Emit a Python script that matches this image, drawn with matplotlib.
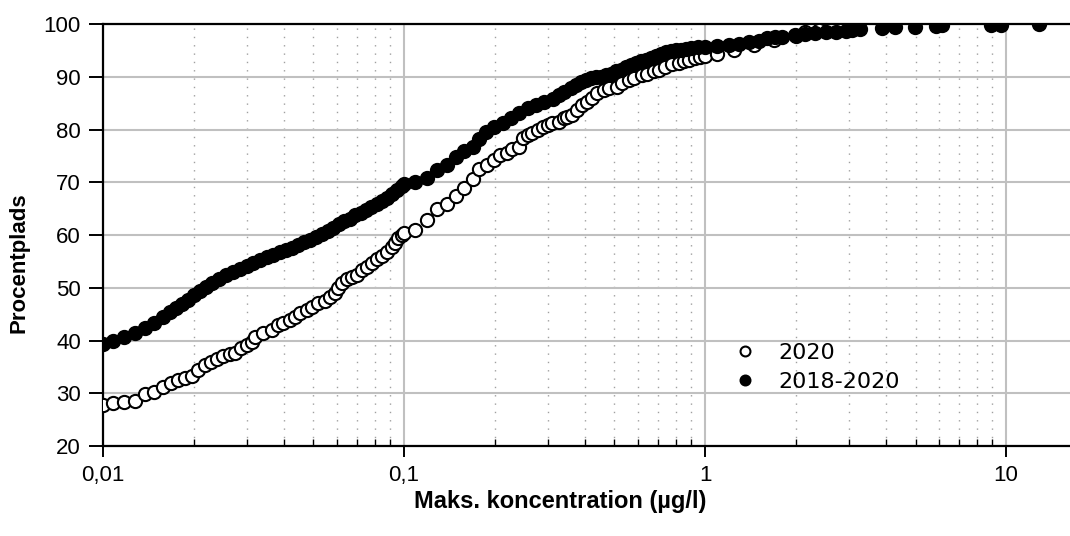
import matplotlib
matplotlib.use("Agg")
import matplotlib.pyplot as plt
from matplotlib.ticker import FixedLocator, FixedFormatter, LogLocator, NullFormatter

# =========================
# DATA
# =========================
conc_2020 = [
    0.0100, 0.0108, 0.0117, 0.0128, 0.0138, 0.0148, 0.0158, 0.0168, 0.0177, 0.0187,
    0.0198, 0.0207, 0.0218, 0.0229, 0.0239, 0.0251, 0.0264, 0.0275, 0.0287, 0.0301,
    0.0313, 0.0320, 0.0340, 0.0363, 0.0381, 0.0396, 0.0418, 0.0434, 0.0451, 0.0475,
    0.0493, 0.0518, 0.0547, 0.0568, 0.0590, 0.0604, 0.0621, 0.0645, 0.0670, 0.0696,
    0.0723, 0.0751, 0.0781, 0.0811, 0.0843, 0.0876, 0.0910, 0.0934, 0.0955, 0.0985,
    0.1000, 0.109, 0.119, 0.129, 0.139, 0.149, 0.158, 0.169, 0.177, 0.188,
    0.199, 0.208, 0.219, 0.229, 0.240, 0.249, 0.258, 0.266, 0.278, 0.289,
    0.300, 0.311, 0.327, 0.339, 0.348, 0.361, 0.376, 0.390, 0.406, 0.421,
    0.438, 0.461, 0.479, 0.510, 0.530, 0.558, 0.580, 0.618, 0.642, 0.675,
    0.702, 0.738, 0.777, 0.818, 0.850, 0.883, 0.929, 0.965, 1.000, 1.096,
    1.25, 1.45, 1.70, 2.00, 2.15, 2.39,
]
pct_2020 = [
    27.8, 28.1, 28.3, 28.5, 29.8, 30.2, 31.1, 31.9, 32.5, 32.9,
    33.3, 34.5, 35.4, 35.9, 36.4, 37.0, 37.4, 37.7, 38.6, 39.2,
    39.8, 40.7, 41.4, 42.0, 42.9, 43.3, 43.9, 44.5, 45.2, 45.8,
    46.4, 47.1, 47.5, 48.3, 49.0, 50.0, 50.9, 51.7, 52.1, 52.4,
    53.4, 54.0, 54.7, 55.4, 56.0, 56.8, 57.8, 58.5, 59.4, 60.0,
    60.4, 60.9, 62.8, 65.0, 65.9, 67.4, 69.0, 70.6, 72.6, 73.3,
    74.3, 75.2, 75.5, 76.4, 76.7, 78.3, 78.9, 79.4, 79.9, 80.5,
    80.9, 81.2, 81.5, 82.1, 82.3, 82.7, 83.7, 84.6, 85.3, 85.9,
    86.9, 87.5, 87.8, 88.1, 88.8, 89.4, 89.7, 90.3, 90.6, 91.0,
    91.3, 91.9, 92.5, 92.6, 92.9, 93.2, 93.5, 93.8, 94.0, 94.3,
    95.1, 96.0, 97.0, 97.8, 98.5, 98.9,
]

conc_1820 = [
    0.0100, 0.0108, 0.0117, 0.0128, 0.0138, 0.0148, 0.0158, 0.0167, 0.0175, 0.0183,
    0.0191, 0.0200, 0.0210, 0.0220, 0.0231, 0.0243, 0.0256, 0.0270, 0.0285, 0.0300,
    0.0316, 0.0333, 0.0350, 0.0368, 0.0386, 0.0405, 0.0425, 0.0445, 0.0465, 0.0487,
    0.0510, 0.0533, 0.0557, 0.0582, 0.0607, 0.0633, 0.0660, 0.0688, 0.0717, 0.0747,
    0.0778, 0.0810, 0.0843, 0.0877, 0.0912, 0.0948, 0.0985, 0.1000, 0.109, 0.119,
    0.129, 0.139, 0.149, 0.158, 0.169, 0.177, 0.187, 0.199, 0.213, 0.227,
    0.241, 0.258, 0.275, 0.292, 0.312, 0.327, 0.340, 0.359, 0.373, 0.388,
    0.403, 0.418, 0.434, 0.451, 0.469, 0.487, 0.506, 0.526, 0.547, 0.568,
    0.590, 0.613, 0.637, 0.662, 0.688, 0.714, 0.742, 0.771, 0.801, 0.832,
    0.864, 0.898, 0.950, 1.000, 1.096, 1.199, 1.294, 1.397, 1.508, 1.607,
    1.713, 1.802, 1.995, 2.152, 2.325, 2.512, 2.713, 2.928, 3.08, 3.28,
    3.87, 4.28, 4.99, 5.83, 6.10, 8.88, 9.64, 12.9,
]
pct_1820 = [
    39.3, 39.9, 40.7, 41.4, 42.3, 43.3, 44.4, 45.4, 46.2, 47.0,
    47.7, 48.6, 49.4, 50.2, 50.9, 51.7, 52.4, 53.0, 53.6, 54.1,
    54.7, 55.3, 55.9, 56.3, 56.7, 57.1, 57.6, 58.1, 58.6, 59.1,
    59.6, 60.2, 60.8, 61.4, 62.0, 62.6, 63.1, 63.7, 64.2, 64.7,
    65.3, 65.9, 66.5, 67.1, 67.8, 68.6, 69.3, 69.7, 70.1, 70.9,
    72.3, 73.3, 74.8, 76.0, 76.7, 78.2, 79.6, 80.5, 81.2, 82.1,
    83.1, 84.0, 84.6, 85.3, 85.7, 86.5, 87.2, 87.8, 88.5, 89.1,
    89.4, 89.7, 89.9, 90.0, 90.3, 90.6, 91.0, 91.3, 91.8, 92.2,
    92.6, 92.9, 93.2, 93.5, 93.9, 94.3, 94.6, 94.8, 95.0, 95.1,
    95.3, 95.4, 95.6, 95.7, 95.9, 96.1, 96.3, 96.6, 96.8, 97.3,
    97.5, 97.6, 97.9, 98.2, 98.3, 98.4, 98.5, 98.7, 98.9, 99.1,
    99.2, 99.4, 99.5, 99.6, 99.8, 99.8, 99.9, 100.0,
]

x_ticks = [0.01, 0.1, 1, 10]
x_tick_labels = ["0,01", "0,1", "1", "10"]
y_ticks = [20, 30, 40, 50, 60, 70, 80, 90, 100]

# =========================
# PLOT
# =========================
plt.rcParams['font.family'] = ['Liberation Sans', 'DejaVu Sans']

fig = plt.figure(figsize=(10.7, 5.36), dpi=100)
ax = fig.add_axes([0.0963, 0.1679, 0.9037, 0.7873])

ax.plot(conc_2020, pct_2020, linestyle='none', marker='o', ms=9.5,
        mfc='white', mec='black', mew=1.5, label='2020', zorder=3)
ax.plot(conc_1820, pct_1820, linestyle='none', marker='o', ms=9.5,
        mfc='black', mec='black', mew=1.5, label='2018-2020', zorder=4)

ax.set_xscale('log')
ax.set_xlim(0.01, 16.3)
ax.set_ylim(20, 100)

ax.xaxis.set_major_locator(FixedLocator(x_ticks))
ax.xaxis.set_major_formatter(FixedFormatter(x_tick_labels))
ax.xaxis.set_minor_locator(LogLocator(base=10, subs=range(2, 10), numticks=20))
ax.xaxis.set_minor_formatter(NullFormatter())
ax.set_yticks(y_ticks)

ax.grid(which='major', color='#c0c0c0', linewidth=1.5, linestyle='-')
ax.grid(which='minor', axis='x', color='#a0a0a0', linewidth=1.0, linestyle=(0, (1, 5)))
ax.set_axisbelow(True)

for s in ['left', 'bottom', 'top']:
    ax.spines[s].set_color('black')
    ax.spines[s].set_linewidth(1.6)
ax.spines['right'].set_visible(False)

ax.tick_params(axis='y', which='major', direction='out', length=10, width=1.4, labelsize=16, pad=6)
ax.tick_params(axis='x', which='major', direction='out', length=8, width=1.4, labelsize=16, pad=6)
ax.tick_params(axis='x', which='minor', direction='in', length=5, width=1.0)

ax.set_xlabel('Maks. koncentration (µg/l)', fontsize=17, fontweight='bold')
ax.xaxis.set_label_coords(0.4726, -0.105)
ax.set_ylabel('Procentplads', fontsize=16, fontweight='bold')
ax.yaxis.set_label_coords(-0.0765, 0.434)

leg = ax.legend(loc='upper left', bbox_to_anchor=(0.64, 0.265), frameon=False,
                markerscale=0.75, handlelength=1.3, handletextpad=0.85,
                labelspacing=0.4, borderaxespad=0,
                prop={'family': 'DejaVu Sans', 'size': 16})

fig.savefig("out.png", dpi=100)
